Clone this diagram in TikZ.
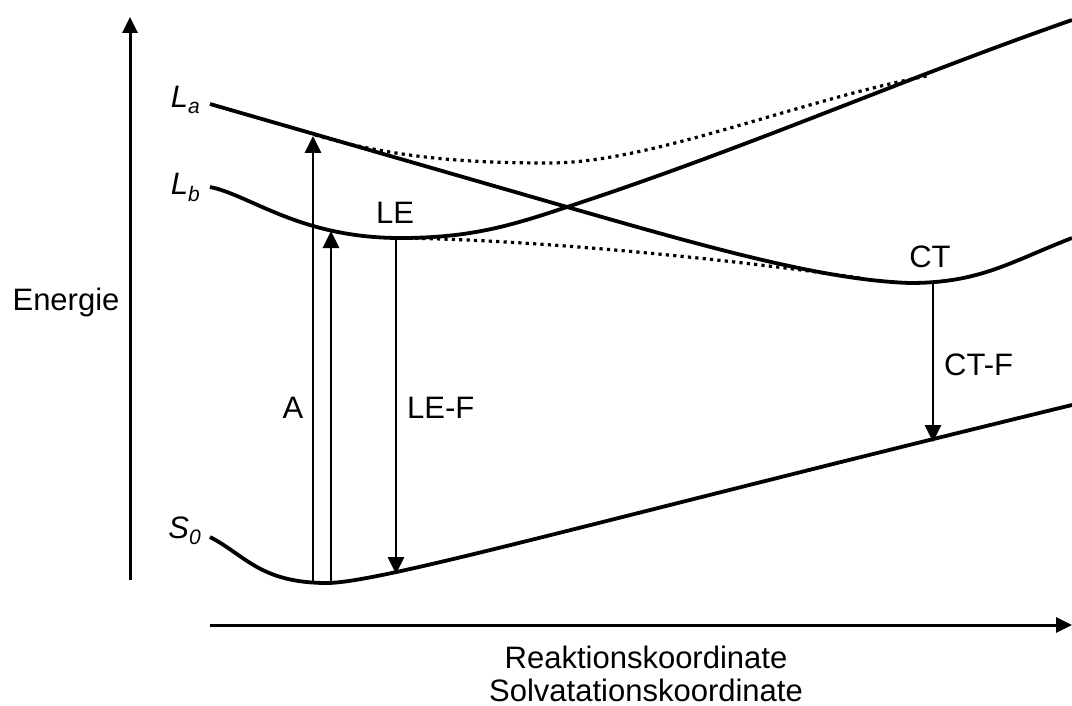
\documentclass[tikz,border=0pt]{standalone}
\usepackage{fontspec}
\setmainfont{Liberation Sans}
\usetikzlibrary{arrows.meta}
\begin{document}
\begin{tikzpicture}[x=1pt,y=-1pt,
  curve/.style={line width=3.8pt},
  dotline/.style={line width=3.2pt,dash pattern=on 3.2pt off 4.2pt},
  axis/.style={line width=3pt,-{Triangle[length=16pt,width=15pt]}},
  trans/.style={line width=2.8pt,-{Triangle[length=17pt,width=16pt]}},
  lbl/.style={inner sep=0pt,font=\fontsize{31}{34}\selectfont},
  sub/.style={inner sep=0pt,anchor=base east,font=\fontsize{31}{34}\selectfont\itshape}]
\useasboundingbox (0,0) rectangle (1072,706);
\fill[white] (0,0) rectangle (1072,706);
% named points
\coordinate (yb) at (130,580);
\coordinate (yt) at (130,17);
\coordinate (xl) at (210,625);
\coordinate (xr) at (1072,625);
\coordinate (Aa) at (313,583);
\coordinate (Ab) at (313,136);
\coordinate (Ba) at (331,583);
\coordinate (Bb) at (331,231);
\coordinate (LEt) at (396,238);
\coordinate (LEb) at (396,574);
\coordinate (CTt) at (933,283);
\coordinate (CTb) at (933,442);
% axes
\draw[axis] (yb) -- (yt);
\draw[axis] (xl) -- (xr);
% La
\draw[curve] (210,104) -- (567,207) .. controls (700,245) and (820,280) .. (910,283)
  .. controls (980,283) and (1010,262) .. (1072,238);
% Lb
\draw[curve] (210,187) .. controls (250,195) and (300,238) .. (400,238)
  .. controls (470,238) and (510,226) .. (567,207)
  .. controls (750,147) and (900,80) .. (1072,20);
% S0
\draw[curve] (210,537) .. controls (245,555) and (260,583) .. (327,583)
  .. controls (380,583) and (600,520) .. (1072,405);
% dotted avoided crossings
\draw[dotline] (315,135) .. controls (400,160) and (480,163) .. (550,163)
  .. controls (650,163) and (800,100) .. (927,76);
\draw[dotline] (400,238) .. controls (550,240) and (750,262) .. (860,278);
% transitions
\draw[trans] (Aa) -- (Ab);
\draw[trans] (Ba) -- (Bb);
\draw[trans] (LEt) -- (LEb);
\draw[trans] (CTt) -- (CTb);
% labels
\node[sub] (La) at (200,108) {L\raisebox{-6pt}{\fontsize{21}{21}\selectfont a}};
\node[sub] (Lb) at (200,195) {L\raisebox{-6pt}{\fontsize{21}{21}\selectfont b}};
\node[sub] (S0) at (201,538) {S\raisebox{-6pt}{\fontsize{21}{21}\selectfont 0}};
\node[lbl] (LE) at (395,213) {LE};
\node[lbl] (CT) at (930,257) {CT};
\node[lbl] (A) at (293,408) {A};
\node[lbl,anchor=west] (LEF) at (407,408) {LE-F};
\node[lbl,anchor=west] (CTF) at (944,365) {CT-F};
\node[lbl] (En) at (66,302) {Energie};
\node[lbl] (R) at (646,657) {Reaktionskoordinate};
\node[lbl] (S) at (646,690) {Solvatationskoordinate};
\end{tikzpicture}
\end{document}
